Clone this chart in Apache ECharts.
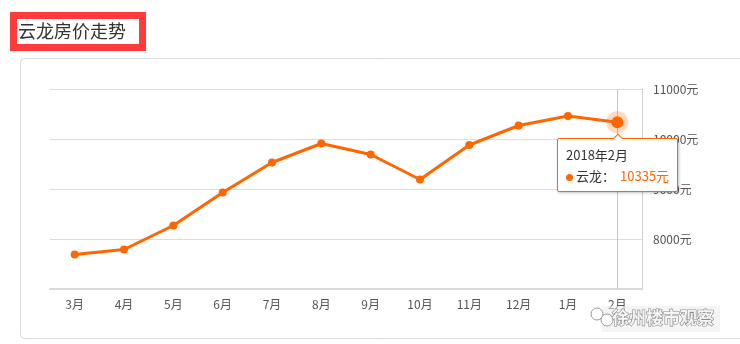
<!DOCTYPE html>
<html>
<head>
<meta charset="utf-8">
<script src="https://cdn.jsdelivr.net/npm/echarts@6/dist/echarts.min.js"></script>
<style>
html,body{margin:0;padding:0;background:#fff;}
#c{width:740px;height:344px;}
</style>
</head>
<body>
<div id="c"></div>
<script>
const titleText = '云龙房价走势';
const months = ['3月','4月','5月','6月','7月','8月','9月','10月','11月','12月','1月','2月'];
const fullMonths = ['2017年3月','2017年4月','2017年5月','2017年6月','2017年7月','2017年8月','2017年9月','2017年10月','2017年11月','2017年12月','2018年1月','2018年2月'];
const seriesName = '云龙';
const prices = [7690, 7790, 8270, 8930, 9530, 9910, 9690, 9190, 9880, 10270, 10460, 10335];
const yMin = 7000, yMax = 11000, yStep = 1000;
const unit = '元';
const watermark = '徐州楼市观察';

const FONT = '"Noto Sans CJK SC", "Noto Sans", sans-serif';
const ORANGE = '#ff6600';
const hl = prices.length - 1;

const chart = echarts.init(document.getElementById('c'), null, {renderer:'canvas'});
chart.setOption({
  animation: false,
  backgroundColor: '#fff',
  textStyle: {fontFamily: FONT},
  graphic: [
    {type:'rect', z:-10, silent:true, shape:{x:20.5, y:58.5, width:730, height:280, r:4},
     style:{fill:'#fff', stroke:'#dcdcdc', lineWidth:1}},
    {type:'rect', silent:true, shape:{x:13.5, y:15.5, width:129, height:32},
     style:{fill:'#fff', stroke:'#ff3b3b', lineWidth:7}},
    {type:'text', silent:true, x:18, y:31,
     style:{text:titleText, fill:'#333', font:'18px ' + FONT, textVerticalAlign:'middle'}},
    {type:'rect', silent:true, z:99, shape:{x:602, y:306, width:118, height:26},
     style:{fill:'rgba(235,235,235,0.55)'}},
    {type:'circle', silent:true, z:100, shape:{cx:597, cy:314, r:6},
     style:{fill:'#fff', stroke:'#9a9a9a', lineWidth:1}},
    {type:'circle', silent:true, z:100, shape:{cx:607, cy:320, r:6},
     style:{fill:'#fff', stroke:'#9a9a9a', lineWidth:1}},
    {type:'text', silent:true, x:612, y:318, z:100,
     style:{text:watermark, fill:'#f4f4f4', font:'bold 17px ' + FONT, textVerticalAlign:'middle',
            stroke:'#8a8a8a', lineWidth:1.2}}
  ],
  grid: {left:50, right:98, top:89, bottom:55},
  tooltip: {
    trigger: 'item',
    alwaysShowContent: true,
    position: 'bottom',
    backgroundColor: '#fff',
    borderColor: ORANGE,
    borderWidth: 1,
    padding: [5, 8],
    textStyle: {color:'#333', fontSize:13, fontFamily: FONT},
    extraCssText: 'box-shadow:1px 1px 3px rgba(0,0,0,0.25);border-radius:2px;line-height:21px;',
    formatter: function (p) {
      return fullMonths[p.dataIndex] + '<br/>' +
        '<span style="display:inline-block;width:7px;height:7px;border-radius:50%;background:' + ORANGE + ';margin-right:3px;vertical-align:middle;"></span>' +
        p.seriesName + '：<span style="color:' + ORANGE + ';margin-left:5px;">' + p.value + unit + '</span>';
    }
  },
  xAxis: {
    type: 'category',
    data: months,
    boundaryGap: true,
    axisLine: {lineStyle:{color:'#d9d9d9', width:2}},
    axisTick: {alignWithLabel:true, length:4, lineStyle:{color:'#d9d9d9'}},
    axisLabel: {color:'#555', fontSize:12, margin:9, fontFamily: FONT},
    splitLine: {show:false}
  },
  yAxis: {
    type: 'value',
    position: 'right',
    min: yMin, max: yMax, interval: yStep,
    axisLine: {show:true, lineStyle:{color:'#cfcfcf', width:1}},
    axisTick: {show:false},
    axisLabel: {color:'#555', fontSize:12, margin:11, fontFamily: FONT, showMinLabel:false,
      formatter: function (v) { return v + unit; }},
    splitLine: {lineStyle:{color:'#dcdcdc', width:1}}
  },
  series: [{
    name: seriesName,
    type: 'line',
    z: 3,
    data: prices.map(function (v, i) {
      return i === hl ? {value:v, symbolSize:12} : v;
    }),
    symbol: 'circle',
    symbolSize: 8,
    lineStyle: {color: ORANGE, width: 3},
    itemStyle: {color: ORANGE},
    emphasis: {disabled: true},
    markLine: {
      silent: true,
      z: 1,
      symbol: 'none',
      label: {show:false},
      lineStyle: {color:'#c8c8c8', type:'solid', width:1},
      data: [{xAxis: months[hl]}]
    },
    markPoint: {
      silent: true,
      z: 2,
      symbol: 'circle',
      symbolSize: 22,
      label: {show:false},
      itemStyle: {color:'rgba(255,102,0,0.25)'},
      data: [{coord: [months[hl], prices[hl]]}]
    }
  }]
});
setTimeout(function(){
  chart.dispatchAction({type:'showTip', seriesIndex:0, dataIndex:hl});
}, 50);
</script>
</body>
</html>
